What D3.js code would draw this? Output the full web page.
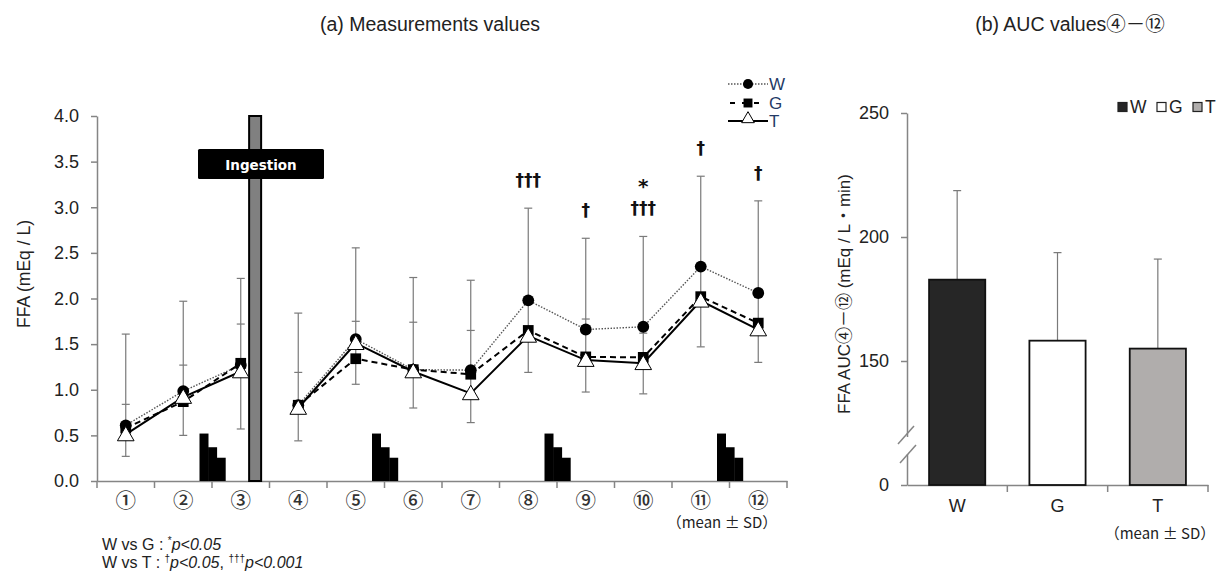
<!DOCTYPE html>
<html><head><meta charset="utf-8">
<script src="https://cdnjs.cloudflare.com/ajax/libs/d3/7.8.5/d3.min.js"></script>
<style>body{margin:0;background:#fff}svg{display:block;font-family:"Liberation Sans",Arial,"Noto Sans CJK JP",sans-serif}</style>
</head><body><svg id="c" width="1222" height="572"></svg>
<script>
// ---- data (a) ----
const categories = ["①","②","③","④","⑤","⑥","⑦","⑧","⑨","⑩","⑪","⑫"];
const wMean = [0.61,0.985,1.27,0.83,1.555,1.22,1.215,1.98,1.66,1.69,2.35,2.06];
const gMean = [0.58,0.87,1.29,0.83,1.34,1.22,1.17,1.65,1.36,1.355,2.02,1.73];
const tMean = [0.51,0.92,1.20,0.80,1.51,1.20,0.96,1.59,1.325,1.29,1.975,1.66];
const wSD = [1.00,0.985,0.95,1.01,1.00,1.01,0.985,1.01,1.00,0.99,0.99,1.01];
const gSD = [0.26,0.40,0.43,0.36,0.41,0.52,0.48,null,0.415,0.265,null,null];
const tSD = [0.24,0.42,0.63,0.36,0.45,0.40,0.32,0.40,0.35,0.335,0.505,0.36];
const yTicks = [0,0.5,1.0,1.5,2.0,2.5,3.0,3.5,4.0];
const mealAfter = ["②","⑤","⑧","⑪"];
const mealSteps = [0.52,0.37,0.255];
const ingestionAfter = "③";
const annotations = [
  {cat:"⑧", lines:["†††"]},
  {cat:"⑨", lines:["†"]},
  {cat:"⑩", lines:["*","†††"]},
  {cat:"⑪", lines:["†"]},
  {cat:"⑫", lines:["†"]}
];
// ---- data (b) ----
const groups = ["W","G","T"];
const aucMean = [182.8,158.2,155.0];
const aucSD = [35.9,35.5,36.1];
const aucTicks = [100,150,200,250];
const aucTickLabels = ["0","150","200","250"];

const svg = d3.select("#c");
const gray = "#858585";
const txt = "#222";
const cjk = "Noto Sans CJK JP, sans-serif";

// ================= (a) =================
const x = d3.scaleBand().domain(categories).range([97,787]);
const y = d3.scaleLinear().domain([0,4]).range([481,116]);
const cx = c => x(c) + x.bandwidth()/2;

svg.append("text").attr("x",430).attr("y",31).attr("text-anchor","middle")
  .attr("font-size",19.5).attr("fill",txt).text("(a) Measurements values");

// y axis
const ya = svg.append("g").attr("transform","translate(97,0)")
  .call(d3.axisLeft(y).tickValues(yTicks).tickFormat(d3.format(".1f")).tickSize(6).tickSizeOuter(0).tickPadding(12));
ya.select(".domain").attr("stroke",gray).attr("stroke-width",1.5);
ya.selectAll(".tick line").attr("stroke",gray).attr("stroke-width",1.5);
ya.selectAll(".tick text").attr("font-size",18).attr("fill",txt).attr("font-family","Liberation Sans, Arial");

svg.append("text").attr("transform","translate(30,274) rotate(-90)").attr("text-anchor","middle")
  .attr("font-size",17.5).attr("fill",txt).text("FFA (mEq / L)");

// x axis
const xa = svg.append("g").attr("transform","translate(0,481)")
  .call(d3.axisBottom(x).tickSize(0).tickPadding(12).tickSizeOuter(0));
xa.select(".domain").attr("stroke",gray).attr("stroke-width",1.5);
xa.selectAll(".tick text").attr("font-size",20.5).attr("font-weight",500).attr("fill","#333").attr("font-family",cjk);
const bounds = categories.map(c => x(c)).concat([x.range()[1]]);
svg.append("g").selectAll("line").data(bounds).join("line")
  .attr("x1",d=>d).attr("x2",d=>d).attr("y1",481).attr("y2",488)
  .attr("stroke",gray).attr("stroke-width",1.5);

svg.append("text").attr("x",722).attr("y",528).attr("text-anchor","middle")
  .attr("font-size",15).attr("fill",txt).attr("font-family",cjk).text("（mean ± SD）");

// meal step blocks
mealAfter.forEach(c => {
  const b = x(c) + x.bandwidth();
  const w = 8.6;
  mealSteps.forEach((v,k) => {
    svg.append("rect").attr("x", b - 12.5 + k*w).attr("width", w + 0.4)
      .attr("y", y(v)).attr("height", y(0) - y(v)).attr("fill","#000");
  });
});

// ingestion bar
const ix = cx(ingestionAfter) + x.bandwidth()*0.25;
svg.append("rect").attr("x",ix-6).attr("width",12).attr("y",y(4)).attr("height",y(0)-y(4))
  .attr("fill","#808080").attr("stroke","#000").attr("stroke-width",2);
svg.append("rect").attr("x",198).attr("y",149).attr("width",126).attr("height",30).attr("rx",1.5)
  .attr("fill","#000");
svg.append("text").attr("x",261).attr("y",169.5).attr("text-anchor","middle")
  .attr("font-family","DejaVu Sans, sans-serif").attr("font-weight","bold").attr("font-size",13.5)
  .attr("fill","#fff").text("Ingestion");

// error bars
const idx = d3.range(categories.length);
const eb = svg.append("g").attr("stroke","#7a7a7a").attr("stroke-width",1.2);
idx.forEach(i => {
  const xc = cx(categories[i]);
  const top = wMean[i] + wSD[i];
  const low = tMean[i] - tSD[i];
  eb.append("line").attr("x1",xc).attr("x2",xc).attr("y1",y(top)).attr("y2",y(low));
  const caps = [top, low];
  if (gSD[i] != null) caps.push(gMean[i] + gSD[i]);
  caps.forEach(v => eb.append("line").attr("x1",xc-4).attr("x2",xc+4).attr("y1",y(v)).attr("y2",y(v)));
});

// lines (split at ingestion)
const segs = [[0,1,2],[3,4,5,6,7,8,9,10,11]];
const line = arr => d3.line().x(i => cx(categories[i])).y(i => y(arr[i]));
segs.forEach(s => {
  svg.append("path").attr("d",line(wMean)(s)).attr("fill","none").attr("stroke","#555").attr("stroke-width",1.4).attr("stroke-dasharray","1.5,1.5");
  svg.append("path").attr("d",line(gMean)(s)).attr("fill","none").attr("stroke","#000").attr("stroke-width",2).attr("stroke-dasharray","6,4");
  svg.append("path").attr("d",line(tMean)(s)).attr("fill","none").attr("stroke","#000").attr("stroke-width",2);
});

// markers
const circ = d3.symbol().type(d3.symbolCircle).size(110);
const sq = d3.symbol().type(d3.symbolSquare).size(115);
const tri = d3.symbol().type(d3.symbolTriangle).size(120);
svg.append("g").selectAll("path").data(idx).join("path")
  .attr("transform",i=>`translate(${cx(categories[i])},${y(wMean[i])})`).attr("d",circ).attr("fill","#000");
svg.append("g").selectAll("path").data(idx).join("path")
  .attr("transform",i=>`translate(${cx(categories[i])},${y(gMean[i])})`).attr("d",sq).attr("fill","#000");
svg.append("g").selectAll("path").data(idx).join("path")
  .attr("transform",i=>`translate(${cx(categories[i])},${y(tMean[i])+1.5})`).attr("d",tri)
  .attr("fill","#fff").attr("stroke","#000").attr("stroke-width",1);

// annotations
annotations.forEach(a => {
  const i = categories.indexOf(a.cat);
  const top = y(wMean[i] + wSD[i]);
  a.lines.forEach((t,k) => {
    const isStar = t === "*";
    svg.append("text").attr("x",cx(a.cat)).attr("y", isStar ? top - 43 : top - 22)
      .attr("text-anchor","middle").attr("font-size", isStar?20:17).attr("font-weight","bold")
      .attr("font-family","DejaVu Sans, sans-serif").attr("fill","#111").text(t);
  });
});

// legend (a)
const legA = [{k:"W",y:84},{k:"G",y:103},{k:"T",y:121}];
legA.forEach(l => {
  const g = svg.append("g");
  if (l.k==="W") {
    g.append("line").attr("x1",728).attr("x2",768).attr("y1",l.y).attr("y2",l.y).attr("stroke","#555").attr("stroke-width",1.4).attr("stroke-dasharray","1.5,1.5");
    g.append("path").attr("transform",`translate(748,${l.y})`).attr("d",d3.symbol().type(d3.symbolCircle).size(80)()).attr("fill","#000");
  } else if (l.k==="G") {
    g.append("line").attr("x1",730).attr("x2",766).attr("y1",l.y).attr("y2",l.y).attr("stroke","#000").attr("stroke-width",2).attr("stroke-dasharray","5,7");
    g.append("path").attr("transform",`translate(748,${l.y})`).attr("d",d3.symbol().type(d3.symbolSquare).size(80)()).attr("fill","#000");
  } else {
    g.append("line").attr("x1",728).attr("x2",768).attr("y1",l.y).attr("y2",l.y).attr("stroke","#000").attr("stroke-width",2);
    g.append("path").attr("transform",`translate(748,${l.y-2})`).attr("d",d3.symbol().type(d3.symbolTriangle).size(70)()).attr("fill","#fff").attr("stroke","#000");
  }
  g.append("text").attr("x",769).attr("y",l.y+6).attr("font-size",17).attr("fill","#243a66").text(l.k);
});

// footnotes
const fn = svg.append("g").attr("font-size",16).attr("fill",txt);
const t1 = fn.append("text").attr("x",102).attr("y",550);
t1.append("tspan").text("W vs G : ");
t1.append("tspan").attr("font-size",10).attr("dy",-6).text("*");
t1.append("tspan").attr("dy",6).attr("font-style","italic").text("p<0.05");
const t2 = fn.append("text").attr("x",102).attr("y",568);
t2.append("tspan").text("W vs T :  ");
t2.append("tspan").attr("font-size",10).attr("dy",-6).text("†");
t2.append("tspan").attr("dy",6).attr("font-style","italic").text("p<0.05");
t2.append("tspan").text(", ");
t2.append("tspan").attr("font-size",10).attr("dy",-6).text("†††");
t2.append("tspan").attr("dy",6).attr("font-style","italic").text("p<0.001");

// ================= (b) =================
const xb = d3.scaleBand().domain(groups).range([907,1208]).paddingInner(0.44).paddingOuter(0.22);
const yb = d3.scaleLinear().domain([100,250]).range([485,113]);

svg.append("text").attr("x",1070).attr("y",31).attr("text-anchor","middle")
  .attr("font-size",19.5).attr("fill",txt).text("(b) AUC values④－⑫");

const yba = svg.append("g").attr("transform","translate(907,0)")
  .call(d3.axisLeft(yb).tickValues(aucTicks).tickFormat((d,i)=>aucTickLabels[i]).tickSize(6).tickSizeOuter(0).tickPadding(12));
yba.select(".domain").attr("stroke",gray).attr("stroke-width",1.5);
yba.selectAll(".tick line").attr("stroke",gray).attr("stroke-width",1.5);
yba.selectAll(".tick text").attr("font-size",18).attr("fill",txt).attr("font-family","Liberation Sans, Arial");

const xba = svg.append("g").attr("transform","translate(0,485)")
  .call(d3.axisBottom(xb).tickSize(0).tickPadding(14).tickSizeOuter(0));
xba.select(".domain").attr("stroke",gray).attr("stroke-width",1.5);
xba.selectAll(".tick text").attr("font-size",18).attr("fill",txt).attr("font-family","Liberation Sans, Arial");
const bstep = xb.step();
svg.append("g").selectAll("line").data([1,2,3]).join("line")
  .attr("x1",d=>907+d*bstep).attr("x2",d=>907+d*bstep).attr("y1",485).attr("y2",492)
  .attr("stroke",gray).attr("stroke-width",1.5);

svg.append("text").attr("transform","translate(850,294) rotate(-90)").attr("text-anchor","middle")
  .attr("font-size",17).attr("fill",txt).text("FFA AUC④－⑫ (mEq / L・min)");

// axis break
svg.append("rect").attr("x",903).attr("y",437).attr("width",8).attr("height",17).attr("fill","#fff");
svg.append("line").attr("x1",898).attr("y1",444).attr("x2",914).attr("y2",426).attr("stroke",gray).attr("stroke-width",1.5);
svg.append("line").attr("x1",900).attr("y1",463).attr("x2",916).attr("y2",445).attr("stroke",gray).attr("stroke-width",1.5);

// error bars (b)
groups.forEach((g,i) => {
  const xc = xb(g) + xb.bandwidth()/2;
  svg.append("line").attr("x1",xc).attr("x2",xc).attr("y1",yb(aucMean[i]+aucSD[i])).attr("y2",yb(aucMean[i]))
    .attr("stroke","#7a7a7a").attr("stroke-width",1.2);
  svg.append("line").attr("x1",xc-4).attr("x2",xc+4).attr("y1",yb(aucMean[i]+aucSD[i])).attr("y2",yb(aucMean[i]+aucSD[i]))
    .attr("stroke","#7a7a7a").attr("stroke-width",1.2);
});
const fills = ["#262626","#ffffff","#b0adac"];
svg.append("g").selectAll("rect").data(groups).join("rect")
  .attr("x",d=>xb(d)).attr("width",xb.bandwidth())
  .attr("y",(d,i)=>yb(aucMean[i])).attr("height",(d,i)=>yb(100)-yb(aucMean[i]))
  .attr("fill",(d,i)=>fills[i]).attr("stroke","#111").attr("stroke-width",1.8);

// legend (b)
const legB = svg.append("g");
const legBx = [1118,1157,1193];
groups.forEach((g,i) => {
  legB.append("rect").attr("x",legBx[i]).attr("y",102.5).attr("width",9).attr("height",9)
    .attr("fill",fills[i]).attr("stroke","#222").attr("stroke-width",1.2);
  legB.append("text").attr("x",legBx[i]+12).attr("y",113).attr("font-size",17.5).attr("fill",txt).text(g);
});

svg.append("text").attr("x",1160).attr("y",539).attr("text-anchor","middle")
  .attr("font-size",15).attr("fill",txt).attr("font-family",cjk).text("（mean ± SD）");
</script></body></html>
